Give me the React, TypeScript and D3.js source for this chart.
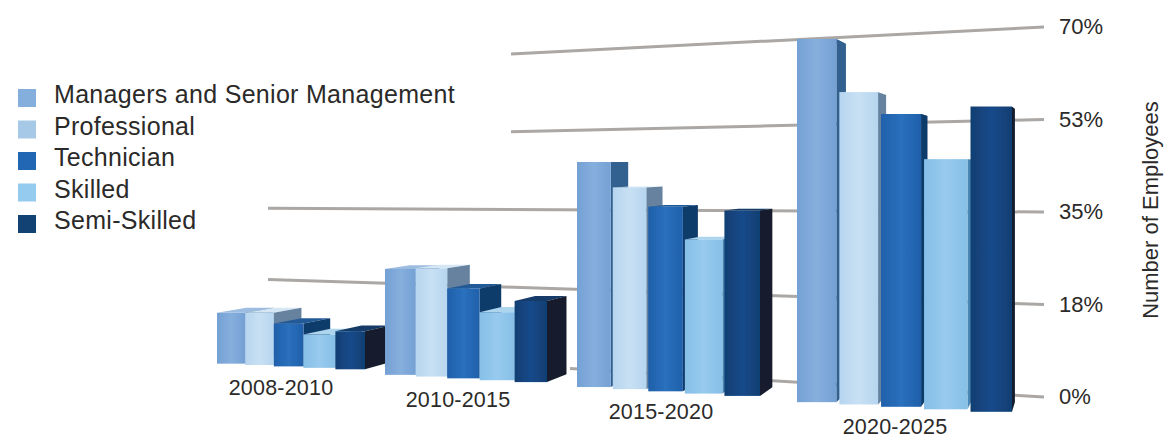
import React from "react";
import * as d3 from "d3";

const periods = ["2008-2010", "2010-2015", "2015-2020", "2020-2025"];
const seriesNames = ["Managers and Senior Management", "Professional", "Technician", "Skilled", "Semi-Skilled"];
const managers = [12.1, 23.9, 47.9, 72.6];
const professional = [12.3, 24.2, 42.5, 61.7];
const technician = [10, 19.9, 38.5, 57.2];
const skilled = [7.7, 14.9, 31.8, 48.3];
const semiSkilled = [8.7, 17.6, 37.8, 58.2];
const seriesValues = [managers, professional, technician, skilled, semiSkilled];
const tickValues = [0, 17.5, 35, 52.5, 70];
const tickLabels = ["0%", "18%", "35%", "53%", "70%"];
const tickStartX = [570, 268, 268, 511, 511];

const legendColors = ["#84aedb", "#a7c9e8", "#2167b4", "#94cbee", "#124274"];
const frontLight = ["#86afdd", "#c8e0f3", "#2a70bd", "#98caee", "#14498a"];
const frontDark = ["#74a0d4", "#b6d5ef", "#1f60aa", "#86bfe7", "#113f72"];
const sideColors = ["#33608f", "#66829f", "#113a6a", "#4b85b5", "#141f2d"];
const topColors = ["#9dbde0", "#d5e7f5", "#245a98", "#aed5ee", "#123a68"];

const W = 1165;
const H = 439;

// one unit of p = one bar; a group holds five bars and a gap
const groupStep = 5.75;
const barEdges = [0, 0.95, 1.92, 2.92, 4, 5];
const pDomain = [0, 5, groupStep, groupStep + 5, 2 * groupStep, 2 * groupStep + 5, 3 * groupStep, 3 * groupStep + 5];
const xOf = d3.scaleLinear<number>().domain(pDomain).range([217, 365, 385, 547, 577, 760, 797, 1012]);
const baseOf = d3.scaleLinear<number>().domain(pDomain).range([363, 370, 374, 383, 386, 397, 401, 413]);
const unitOf = d3.scaleLinear<number>().domain([217, 1012]).range([4.2, 5.3]);
const barGap = [0, 0, 2, 3];

// grid lines converge to the left: y at two reference abscissas
const gridLeftX = 511;
const gridRightX = 1044;
const gridLeftY = d3.scaleLinear<number>().domain([0, 70]).range([365, 54]);
const gridRightY = d3.scaleLinear<number>().domain([0, 70]).range([397, 27]);
const gridY = (v: number, x: number) =>
  d3.scaleLinear<number>().domain([gridLeftX, gridRightX]).range([gridLeftY(v), gridRightY(v)])(x);

// vanishing point of the bars' depth
const vanish: [number, number] = [1085, 165];
const depthT = d3.scaleLinear<number>().domain([272, 1012]).range([0.034, 0.04]);
const back = (x: number, y: number, ref: number): [number, number] => {
  const t = depthT(ref);
  return [x + (vanish[0] - x) * t, y + (vanish[1] - y) * t];
};
const poly = (pts: [number, number][]) => pts.map((p) => p.join(",")).join(" ");

const labelPos = [
  { x: 281, y: 395 },
  { x: 458, y: 407 },
  { x: 661, y: 419 },
  { x: 895, y: 434 },
];

const font = "'Liberation Sans', Arial, sans-serif";

export default function App() {
  const bars: React.ReactNode[] = [];
  periods.forEach((_, g) => {
    seriesValues.forEach((vals, s) => {
      const p0 = g * groupStep + barEdges[s];
      const p1 = g * groupStep + barEdges[s + 1];
      const x0 = xOf(p0) + (s === 0 ? 0 : barGap[g] / 2);
      const x1 = xOf(p1) - (s === 4 ? 0 : barGap[g] / 2);
      const yB = baseOf((p0 + p1) / 2);
      const yT = yB - vals[g] * unitOf(x0);
      const bTR = back(x1, yT, x1);
      const bBR = back(x1, yB, x1);
      const bTL = back(x0, yT, x1);
      bars.push(
        <g key={`${g}-${s}`}>
          <polygon points={poly([[x0, yT], bTL, bTR, [x1, yT]])} fill={topColors[s]} />
          <polygon points={poly([[x1, yT], bTR, bBR, [x1, yB]])} fill={sideColors[s]} />
          <rect x={x0} y={yT} width={x1 - x0} height={yB - yT} fill={`url(#front${s})`} />
        </g>
      );
    });
  });

  return (
    <svg width={W} height={H} style={{ position: "absolute", left: 0, top: 0, background: "#fff" }}>
      <defs>
        {frontLight.map((c, i) => (
          <linearGradient key={i} id={`front${i}`} x1="0" x2="1" y1="0" y2="0">
            <stop offset="0" stopColor={frontDark[i]} />
            <stop offset="0.5" stopColor={c} />
            <stop offset="1" stopColor={frontDark[i]} />
          </linearGradient>
        ))}
        <filter id="soft" x="-5%" y="-5%" width="110%" height="110%">
          <feGaussianBlur stdDeviation="0.6" />
        </filter>
      </defs>

      <g filter="url(#soft)">
        {tickValues.map((v, i) => (
          <line
            key={v}
            x1={tickStartX[i]}
            x2={gridRightX}
            y1={gridY(v, tickStartX[i])}
            y2={gridY(v, gridRightX)}
            stroke="#aaa7a4"
            strokeWidth={3}
          />
        ))}
        {bars}
      </g>

      {tickValues.map((v, i) => (
        <text key={v} x={1059} y={gridRightY(v) + 7} fontFamily={font} fontSize={22} fill="#2b2a29">
          {tickLabels[i]}
        </text>
      ))}
      <text
        transform="translate(1158,210) rotate(-90)"
        textAnchor="middle"
        fontFamily={font}
        fontSize={22}
        fill="#2b2a29"
      >
        Number of Employees
      </text>

      {periods.map((t, i) => (
        <text
          key={t}
          x={labelPos[i].x}
          y={labelPos[i].y}
          textAnchor="middle"
          fontFamily={font}
          fontSize={21.5}
          letterSpacing={0.2}
          fill="#2b2a29"
        >
          {t}
        </text>
      ))}

      {seriesNames.map((n, i) => (
        <g key={n}>
          <rect x={18} y={89 + i * 31.5} width={18} height={18} fill={legendColors[i]} />
          <text x={54} y={103 + i * 31.5} fontFamily={font} fontSize={25} letterSpacing={0.3} fill="#2b2a29">
            {n}
          </text>
        </g>
      ))}
    </svg>
  );
}
